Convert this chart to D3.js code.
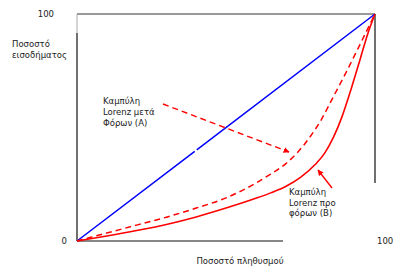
<!DOCTYPE html>
<html lang="el">
<head>
<meta charset="UTF-8">
<script src="https://d3js.org/d3.v7.min.js"></script>
<style>
body { margin: 0; background: #fff; }
text { font-family: "DejaVu Sans", Verdana, sans-serif; font-size: 8.5px; fill: #222; }
</style>
</head>
<body>
<script>
// population share (%) vs income share (%)
var equality = [[0, 0], [100, 100]];
var curveA = [[0, 0], [10, 3.5], [20, 7], [30, 10.5], [40, 14.5], [50, 19], [55, 22], [60, 25.5], [65, 29.5], [70, 34], [74, 39], [78, 45.5], [82, 53.5], [86, 63.5], [90, 73.5], [94, 84], [97, 92], [100, 100]];
var curveB = [[0, 0], [10, 2.2], [20, 4.6], [30, 7.3], [40, 10.6], [50, 14.5], [60, 18.8], [65, 21.2], [70, 24], [75, 28], [80, 33.8], [83, 38.5], [86, 45.5], [89, 55], [92, 67], [95, 80], [97.5, 91], [100, 100]];
var yTicks = [0, 100];
var xTicks = [100];

var width = 393, height = 267;

var svg = d3.select("body").append("svg")
    .attr("width", width)
    .attr("height", height);

var x = d3.scaleLinear().domain([0, 100]).range([77, 375]);
var y = d3.scaleLinear().domain([0, 100]).range([241, 14]);

// frame (open at the label corners, like the original)
svg.append("line").attr("x1", x(0)).attr("x2", x(100)).attr("y1", y(100)).attr("y2", y(100))
    .attr("stroke", "#333").attr("stroke-width", 1);
svg.append("line").attr("x1", x(0)).attr("x2", x(0)).attr("y1", y(100)).attr("y2", 33)
    .attr("stroke", "#aaa").attr("stroke-width", 1);
svg.append("line").attr("x1", x(0)).attr("x2", x(0)).attr("y1", 33).attr("y2", y(0))
    .attr("stroke", "#111").attr("stroke-width", 1.2);
svg.append("line").attr("x1", x(100)).attr("x2", x(100)).attr("y1", y(100)).attr("y2", 183)
    .attr("stroke", "#111").attr("stroke-width", 1.2);
svg.append("line").attr("x1", x(0)).attr("x2", 283).attr("y1", y(0)).attr("y2", y(0))
    .attr("stroke", "#111").attr("stroke-width", 1.2);

var line = d3.line()
    .x(function(d) { return x(d[0]); })
    .y(function(d) { return y(d[1]); })
    .curve(d3.curveMonotoneX);

svg.append("path").datum(equality)
    .attr("d", d3.line().x(function(d) { return x(d[0]); }).y(function(d) { return y(d[1]); }))
    .attr("fill", "none").attr("stroke", "#0000ff").attr("stroke-width", 1.5)
    .attr("stroke-dasharray", "148,2.5,400");

svg.append("path").datum(curveA)
    .attr("d", line)
    .attr("fill", "none").attr("stroke", "#ff0000").attr("stroke-width", 1.5)
    .attr("stroke-dasharray", "6,4");

svg.append("path").datum(curveB)
    .attr("d", line)
    .attr("fill", "none").attr("stroke", "#ff0000").attr("stroke-width", 1.6);

// arrow heads
var defs = svg.append("defs");
defs.append("marker").attr("id", "head")
    .attr("viewBox", "0 0 10 10").attr("refX", 9).attr("refY", 5)
    .attr("markerWidth", 6).attr("markerHeight", 6)
    .attr("markerUnits", "userSpaceOnUse")
    .attr("orient", "auto")
  .append("path").attr("d", "M0,0L10,5L0,10z").attr("fill", "#ff0000");

svg.append("line").attr("x1", 163).attr("y1", 104).attr("x2", 289).attr("y2", 152)
    .attr("stroke", "#ff0000").attr("stroke-width", 1.4).attr("stroke-dasharray", "6,4")
    .attr("marker-end", "url(#head)");
svg.append("line").attr("x1", 332).attr("y1", 188).attr("x2", 318).attr("y2", 170)
    .attr("stroke", "#ff0000").attr("stroke-width", 1.4)
    .attr("marker-end", "url(#head)");

// tick labels
svg.selectAll(".ytick").data(yTicks).enter().append("text")
    .attr("x", function(d) { return d === 0 ? 67 : 54; })
    .attr("y", function(d) { return y(d); }).attr("dy", "0.35em")
    .attr("text-anchor", "end")
    .text(function(d) { return d; });
svg.selectAll(".xtick").data(xTicks).enter().append("text")
    .attr("x", function(d) { return x(d) + 2; }).attr("y", y(0)).attr("dy", "0.35em")
    .text(function(d) { return d; });

// axis titles
svg.append("text").attr("x", 12).attr("y", 47).text("Ποσοστό");
svg.append("text").attr("x", 12).attr("y", 58).text("εισοδήματος");
svg.append("text").attr("x", 240).attr("y", 264).attr("text-anchor", "middle").text("Ποσοστό πληθυσμού");

// curve labels
var labA = ["Καμπύλη", "Lorenz μετά", "Φόρων (A)"];
var labB = ["Καμπύλη", "Lorenz προ", "φόρων (B)"];
svg.selectAll(".la").data(labA).enter().append("text")
    .attr("x", 103).attr("y", function(d, i) { return 104 + i * 11; }).text(function(d) { return d; });
svg.selectAll(".lb").data(labB).enter().append("text")
    .attr("x", 289).attr("y", function(d, i) { return 195 + i * 10.5; }).text(function(d) { return d; });
</script>
</body>
</html>
